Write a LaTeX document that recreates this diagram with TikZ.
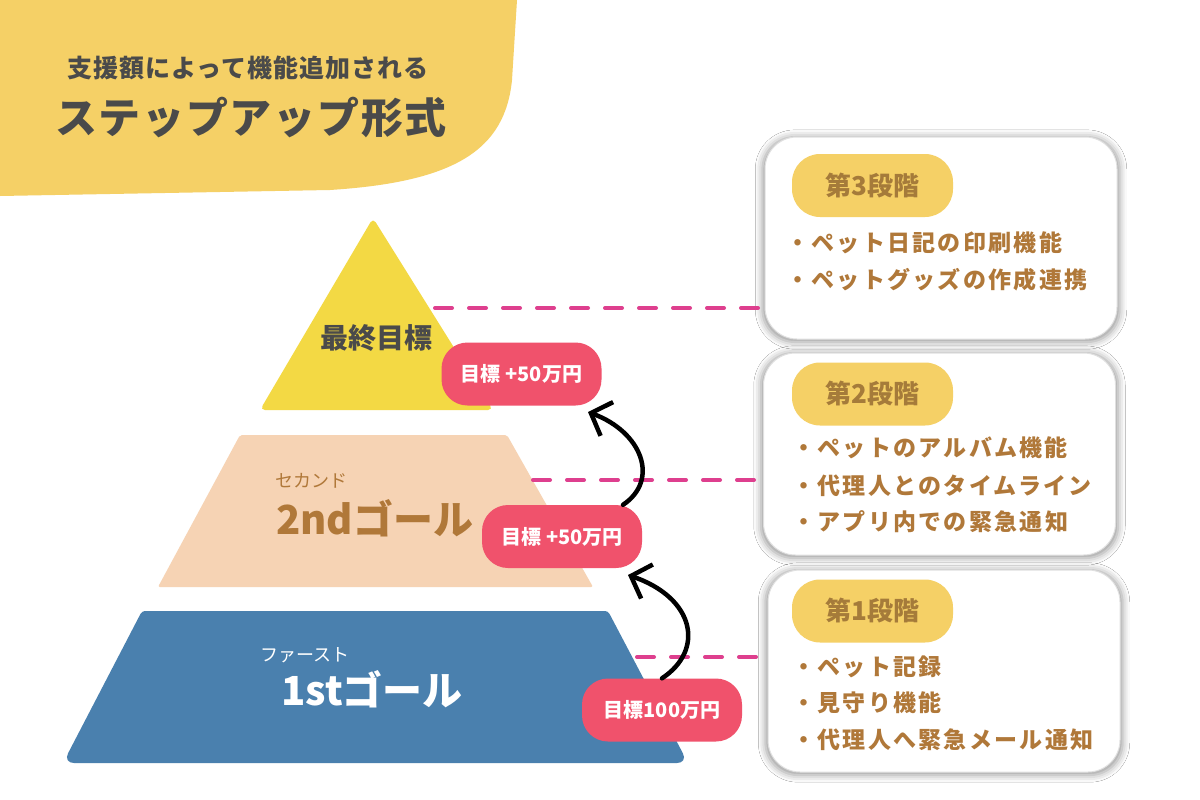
\documentclass[tikz,border=0pt]{standalone}
\usepackage{fontspec}
\usetikzlibrary{arrows.meta,shadows.blur}
\setmainfont{Noto Sans CJK JP}
\newfontfamily\jp{Noto Sans CJK JP}
\newfontfamily\jpls{Noto Sans CJK JP}[LetterSpace=10]
\newfontfamily\jplt{Noto Sans CJK JP}[LetterSpace=4]
\definecolor{hdr}{HTML}{F5D066}
\definecolor{tri}{HTML}{F3D944}
\definecolor{peach}{HTML}{F6D3B4}
\definecolor{blu}{HTML}{4A80AE}
\definecolor{badgec}{HTML}{F0526C}
\definecolor{dashc}{HTML}{DE3F8E}
\definecolor{brn}{HTML}{B07839}
\definecolor{pilltxt}{HTML}{A57B3A}
\definecolor{darktxt}{HTML}{4A4A4A}
\tikzset{
  badge/.style={fill=badgec, rounded corners=26pt, minimum width=160pt, minimum height=63pt,
    text=white, inner sep=0pt, font=\jp\bfseries\fontsize{20}{22}\selectfont},
  card/.style={fill=white, draw=black!12, line width=1pt, rounded corners=32pt,
    minimum width=352pt, minimum height=202pt, inner sep=0pt,
    blur shadow={shadow xshift=0pt, shadow yshift=-1.5pt, shadow scale=1.015, shadow blur radius=7pt, shadow opacity=40}},
  pill/.style={fill=hdr, rounded corners=28pt, minimum width=161pt, minimum height=63pt,
    inner sep=0pt, text=pilltxt, font=\jp\bfseries\fontsize{26}{28}\selectfont},
  item/.style={anchor=west, inner sep=0pt, text=brn, font=\jpls\bfseries\fontsize{23}{25}\selectfont},
  dashline/.style={draw=dashc, line width=4pt, line cap=round, dash pattern=on 17pt off 17pt},
  arr/.style={draw=black, line width=4.5pt, line cap=round,
    -{Straight Barb[length=17pt,width=36pt,line width=4.5pt]}},
}
\begin{document}
\begin{tikzpicture}[x=1pt,y=-1pt]
\useasboundingbox (0,0) rectangle (1200,800);
\fill[white] (0,0) rectangle (1200,800);
% header blob
\fill[hdr] (0,0) -- (517,0) -- (512,80) .. controls (505,150) and (455,182) .. (330,190) -- (0,196) -- cycle;
\node[font=\jplt\bfseries\fontsize{25}{27}\selectfont, text=darktxt] (t1) at (248,68) {支援額によって機能追加される};
\node[font=\jplt\bfseries\fontsize{42}{44}\selectfont, text=darktxt] (t2) at (251,117) {ステップアップ形式};
% pyramid
\fill[tri, rounded corners=5pt] (373,218) -- (493,410) -- (260,410) -- cycle;
\fill[peach, rounded corners=2pt] (240,435) -- (507,435) -- (593,587) -- (158,587) -- cycle;
\fill[blu, rounded corners=3pt] (142,611) -- (608,611) [rounded corners=11pt] -- (688,763) -- (63,763) [rounded corners=3pt] -- cycle;
\node[font=\jp\bfseries\fontsize{28}{30}\selectfont, text=darktxt] (g3) at (376,338) {最終目標};
\node[font=\jp\fontsize{18}{20}\selectfont, text=brn] (g2r) at (311,481) {セカンド};
\node[anchor=west, inner sep=0pt, font=\jp\bfseries\fontsize{40}{42}\selectfont, text=brn] (g2) at (276,518) {2ndゴール};
\node[font=\jp\fontsize{18}{20}\selectfont, text=white] (g1r) at (305,655) {ファースト};
\node[anchor=west, inner sep=0pt, font=\jp\bfseries\fontsize{40}{42}\selectfont, text=white] (g1) at (281,689) {1stゴール};
% dashed connectors
\coordinate (d3) at (435,308);
\coordinate (d2) at (533,480);
\coordinate (d1) at (637,657);
% cards
\node[card] (c3) at (941,238) {};
\node[card] (c2) at (939.5,454) {};
\node[card] (c1) at (944,671) {};
\draw[dashline] (d3) -- ([xshift=-3pt]c3.west |- d3);
\draw[dashline] (d2) -- ([xshift=-3pt]c2.west |- d2);
\draw[dashline] (d1) -- ([xshift=-3pt]c1.west |- d1);
% badges
\node[badge] (b3) at (521.5,374) {目標 +50万円};
\node[badge] (b2) at (562,536.5) {目標 +50万円};
\node[badge] (b1) at (662,710) {目標100万円};
% arrows
\coordinate (a1) at (628,575);
\coordinate (a2) at (588,412);
\draw[arr] (b1.north) .. controls (705,650) and (695,598) .. (a1);
\draw[arr] ([xshift=61pt]b2.north) .. controls (660,480) and (642,432) .. (a2);
% card contents
\node[pill] (p3) at (872.5,185.5) {第3段階};
\node[pill] (p2) at (872.5,394) {第2段階};
\node[pill] (p1) at (872.5,611) {第1段階};
\node[item] (i31) at (786,243) {・ペット日記の印刷機能};
\node[item] (i32) at (786,280) {・ペットグッズの作成連携};
\node[item] (i21) at (792,448) {・ペットのアルバム機能};
\node[item] (i22) at (792,486) {・代理人とのタイムライン};
\node[item] (i23) at (792,522) {・アプリ内での緊急通知};
\node[item] (i11) at (792,667) {・ペット記録};
\node[item] (i12) at (792,703) {・見守り機能};
\node[item] (i13) at (792,740) {・代理人へ緊急メール通知};
\end{tikzpicture}
\end{document}
